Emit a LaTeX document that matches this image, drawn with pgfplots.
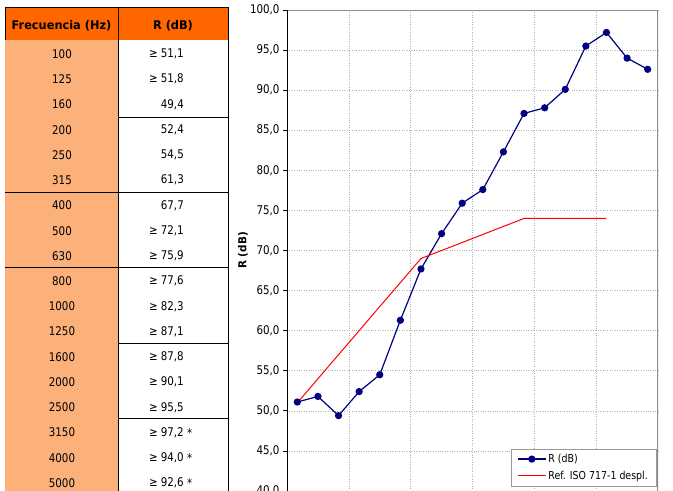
\documentclass[border=0pt]{standalone}
\usepackage{pgfplots}
\pgfplotsset{compat=1.18}
\usepackage{fontspec}
\setmainfont{DejaVu Sans}[FakeStretch=0.86, BoldFeatures={FakeStretch=0.95}]
\definecolor{hdr}{RGB}{255,102,0}
\definecolor{lightor}{RGB}{252,176,122}
\definecolor{navyb}{RGB}{0,0,128}
\begin{document}
\begin{tikzpicture}
\begin{scope}[x=1bp,y=-1bp,font=\fontsize{12}{14}\selectfont]
\fill[hdr] (5,7) rectangle (228,40);
\fill[lightor] (5,40) rectangle (118,500);
\draw[line width=1bp] (5,7) -- (228,7);
\draw[line width=1bp] (5,7) -- (5,40);
\draw[line width=1bp] (118,7) -- (118,500);
\draw[line width=1bp] (228,7) -- (228,500);
\draw[line width=1bp] (118,117) -- (228,117);
\draw[line width=1bp] (5,192) -- (228,192);
\draw[line width=1bp] (5,267) -- (228,267);
\draw[line width=1bp] (118,343) -- (228,343);
\draw[line width=1bp] (118,418) -- (228,418);
\node[font=\fontsize{12}{14}\selectfont\bfseries] at (61.5,26) {Frecuencia (Hz)};
\node[font=\fontsize{12}{14}\selectfont\bfseries] at (173,26) {R (dB)};
\node at (62,54.0) {100};
\node at (62,79.2) {125};
\node at (62,104.5) {160};
\node at (62,129.7) {200};
\node at (62,155.0) {250};
\node at (62,180.2) {315};
\node at (62,205.4) {400};
\node at (62,230.7) {500};
\node at (62,255.9) {630};
\node at (62,281.2) {800};
\node at (62,306.4) {1000};
\node at (62,331.6) {1250};
\node at (62,356.9) {1600};
\node at (62,382.1) {2000};
\node at (62,407.4) {2500};
\node at (62,432.6) {3150};
\node at (62,457.8) {4000};
\node at (62,483.1) {5000};
\node[anchor=east,inner sep=0pt] at (184,54.0) {≥ 51,1};
\node[anchor=east,inner sep=0pt] at (184,79.2) {≥ 51,8};
\node[anchor=east,inner sep=0pt] at (184,104.5) {49,4};
\node[anchor=east,inner sep=0pt] at (184,129.7) {52,4};
\node[anchor=east,inner sep=0pt] at (184,155.0) {54,5};
\node[anchor=east,inner sep=0pt] at (184,180.2) {61,3};
\node[anchor=east,inner sep=0pt] at (184,205.4) {67,7};
\node[anchor=east,inner sep=0pt] at (184,230.7) {≥ 72,1};
\node[anchor=east,inner sep=0pt] at (184,255.9) {≥ 75,9};
\node[anchor=east,inner sep=0pt] at (184,281.2) {≥ 77,6};
\node[anchor=east,inner sep=0pt] at (184,306.4) {≥ 82,3};
\node[anchor=east,inner sep=0pt] at (184,331.6) {≥ 87,1};
\node[anchor=east,inner sep=0pt] at (184,356.9) {≥ 87,8};
\node[anchor=east,inner sep=0pt] at (184,382.1) {≥ 90,1};
\node[anchor=east,inner sep=0pt] at (184,407.4) {≥ 95,5};
\node[anchor=east,inner sep=0pt] at (184,432.6) {≥ 97,2};
\node[anchor=east,inner sep=0pt] at (184,457.8) {≥ 94,0};
\node[anchor=east,inner sep=0pt] at (184,483.1) {≥ 92,6};
\node[anchor=west,inner sep=0pt] at (187,432.6) {*};
\node[anchor=west,inner sep=0pt] at (187,457.8) {*};
\node[anchor=west,inner sep=0pt] at (187,483.1) {*};
\end{scope}
\begin{axis}[at={(287bp,-10bp)}, anchor=north west, scale only axis,
  width=371bp, height=481bp,
  xmin=-0.5, xmax=17.5, ymin=40, ymax=100,
  xtick={2.5,5.5,8.5,11.5,14.5}, xticklabels={},
  ytick={40,45,...,100},
  grid=major, grid style={dotted, black!30, line width=0.6bp},
  axis line style={draw=none},
  ytick pos=left, xtick style={draw=none},
  tick align=outside, major tick length=4bp,
  ytick style={black, line width=0.8bp},
  yticklabel style={font=\fontsize{12}{14}\selectfont},
  /pgf/number format/fixed, /pgf/number format/fixed zerofill,
  /pgf/number format/precision=1, /pgf/number format/use comma,
  /pgf/number format/assume math mode=true,
  ylabel={R (dB)},
  ylabel style={font=\fontsize{11}{13}\selectfont\bfseries, at={(axis description cs:-0.1186,0.5)}, anchor=center},
  legend style={at={(axis description cs:0.9946,0.0104)}, anchor=south east,
    draw=black!40, font=\fontsize{11}{13}\selectfont, cells={anchor=west},
    row sep=3bp, inner xsep=6bp, inner ysep=3bp},
  legend image code/.code={\draw[mark repeat=2, mark phase=2, #1] plot coordinates {(0bp,0bp) (14bp,0bp) (28bp,0bp)};},
]
\addplot[navyb, line width=1.2bp, mark=*, mark size=3bp, mark options={fill=navyb}] coordinates {
(0,51.1)(1,51.8)(2,49.4)(3,52.4)(4,54.5)(5,61.3)(6,67.7)(7,72.1)(8,75.9)
(9,77.6)(10,82.3)(11,87.1)(12,87.8)(13,90.1)(14,95.5)(15,97.2)(16,94.0)(17,92.6)};
\addlegendentry{R (dB)}
\addplot[red, line width=1bp] coordinates {
(0,51)(1,54)(2,57)(3,60)(4,63)(5,66)(6,69)(7,70)(8,71)(9,72)(10,73)(11,74)(12,74)(13,74)(14,74)(15,74)};
\addlegendentry{Ref. ISO 717-1 despl.}
\draw[black!45, line width=1.5bp] (rel axis cs:0,1) -- (rel axis cs:1,1) -- (rel axis cs:1,0);
\draw[black, line width=1.2bp] (rel axis cs:0,0) -- (rel axis cs:0,1);
\end{axis}
\pgfresetboundingbox
\path (0,0) rectangle (673bp,-491bp);
\end{tikzpicture}
\end{document}
